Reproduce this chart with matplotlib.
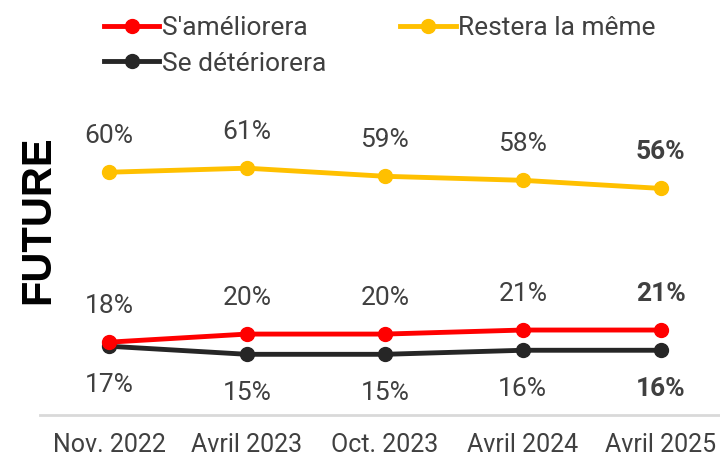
import matplotlib
matplotlib.use('Agg')
import matplotlib.pyplot as plt

plt.rcParams['font.family'] = ['Roboto', 'DejaVu Sans']

periodes = ['Nov. 2022', 'Avril 2023', 'Oct. 2023', 'Avril 2024', 'Avril 2025']
ameliorera = [18, 20, 20, 21, 21]
restera = [60, 61, 59, 58, 56]
deteriorera = [17, 15, 15, 16, 16]

rouge = '#FF0000'
jaune = '#FFC000'
noir = '#262626'
gris_txt = '#404040'

fig = plt.figure(figsize=(7.2, 4.61), dpi=100)
ax = fig.add_axes([40/720, 46/461, 680/720, 263/461])

x = range(len(periodes))
l1, = ax.plot(x, ameliorera, color=rouge, lw=3.5, marker='o', ms=10, label="S'améliorera", zorder=3)
l2, = ax.plot(x, restera, color=jaune, lw=3.5, marker='o', ms=10, label='Restera la même', zorder=3)
l3, = ax.plot(x, deteriorera, color=noir, lw=3.5, marker='o', ms=10, label='Se détériorera', zorder=2)

n = len(periodes)
for i in x:
    w = 'bold' if i == n - 1 else 'normal'
    ax.annotate(f'{restera[i]}%', (i, restera[i]), xytext=(0, 26), textcoords='offset points',
                ha='center', va='center', fontsize=19, color=gris_txt, fontweight=w)
    ax.annotate(f'{ameliorera[i]}%', (i, ameliorera[i]), xytext=(0, 26), textcoords='offset points',
                ha='center', va='center', fontsize=19, color=gris_txt, fontweight=w)
    ax.annotate(f'{deteriorera[i]}%', (i, deteriorera[i]), xytext=(0, -28), textcoords='offset points',
                ha='center', va='center', fontsize=19, color=gris_txt, fontweight=w)

ax.set_xlim(-0.5, 4.43)
ax.set_ylim(0, 65)
ax.set_xticks(list(x))
ax.set_xticklabels(periodes, fontsize=18, color=gris_txt)
ax.tick_params(axis='x', length=0, pad=13)
ax.set_yticks([])
for s in ['top', 'right', 'left']:
    ax.spines[s].set_visible(False)
ax.spines['bottom'].set_color('#D9D9D9')
ax.spines['bottom'].set_linewidth(2)

fig.text(38/720, 1 - 220/461, 'FUTURE', rotation=90, ha='center', va='center',
         fontsize=30, fontweight='bold', family='Liberation Sans', color='black')

fig.legend(handles=[l1, l3, l2], ncol=2, loc='upper left', bbox_to_anchor=(88/720, 1.0),
           frameon=False, fontsize=19, handlelength=2.1, columnspacing=2.8,
           handletextpad=0.1, labelspacing=0.45, borderpad=0.1, labelcolor=gris_txt)

fig.savefig('out.png', dpi=100)
